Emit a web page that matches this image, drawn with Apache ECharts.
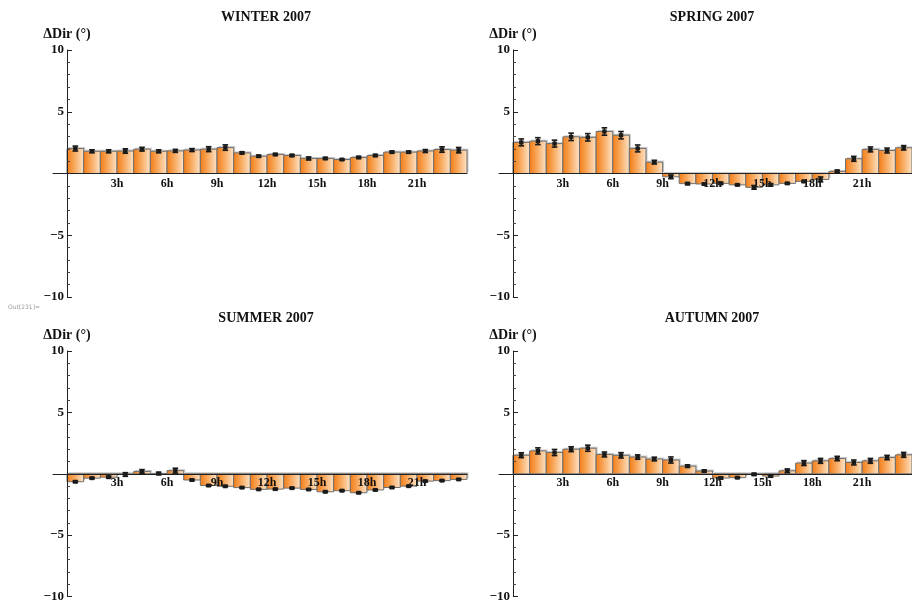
<!DOCTYPE html>
<html>
<head>
<meta charset="utf-8">
<script src="https://cdn.jsdelivr.net/npm/echarts@6/dist/echarts.min.js"></script>
<style>
  html, body { margin: 0; padding: 0; background: #ffffff; }
  #chart { width: 912px; height: 603px; }
</style>
</head>
<body>
<div id="chart"></div>
<script>
// Hour of day for each bar (bar i spans [hour, hour + 1])
const hours = [0, 1, 2, 3, 4, 5, 6, 7, 8, 9, 10, 11, 12, 13, 14, 15, 16, 17, 18, 19, 20, 21, 22, 23];
// Hours that carry a tick label on the time axis
const tickHours = [3, 6, 9, 12, 15, 18, 21];
const yTicks = [-10, -5, 0, 5, 10];

const seasonTitles = ['WINTER 2007', 'SPRING 2007', 'SUMMER 2007', 'AUTUMN 2007'];

// Mean direction difference (degrees) per hour and its error
const winterMean = [2.02, 1.8, 1.8, 1.82, 1.97, 1.8, 1.83, 1.9, 1.97, 2.1, 1.67, 1.4,
                    1.54, 1.46, 1.22, 1.22, 1.13, 1.3, 1.46, 1.73, 1.73, 1.82, 1.94, 1.89];
const winterErr  = [0.2, 0.12, 0.12, 0.18, 0.15, 0.12, 0.12, 0.12, 0.2, 0.22, 0.08, 0.08,
                    0.08, 0.08, 0.12, 0.08, 0.05, 0.08, 0.08, 0.08, 0.08, 0.12, 0.22, 0.22];

const springMean = [2.52, 2.62, 2.42, 2.97, 2.93, 3.4, 3.1, 2.03, 0.92, -0.27, -0.82, -0.85,
                    -0.8, -0.92, -1.12, -0.92, -0.8, -0.64, -0.48, 0.17, 1.19, 1.95, 1.86, 2.08];
const springErr  = [0.28, 0.28, 0.28, 0.3, 0.3, 0.3, 0.3, 0.28, 0.15, 0.15, 0.08, 0.08,
                    0.08, 0.06, 0.15, 0.1, 0.06, 0.08, 0.2, 0.1, 0.2, 0.2, 0.2, 0.18];

const summerMean = [-0.65, -0.36, -0.28, -0.06, 0.19, 0.02, 0.25, -0.51, -0.96, -1.02, -1.13, -1.27,
                    -1.25, -1.17, -1.28, -1.47, -1.38, -1.55, -1.32, -1.12, -1.01, -0.6, -0.56, -0.46];
const summerErr  = [0.06, 0.06, 0.08, 0.15, 0.15, 0.1, 0.2, 0.06, 0.05, 0.05, 0.05, 0.05,
                    0.05, 0.05, 0.05, 0.05, 0.05, 0.05, 0.05, 0.05, 0.05, 0.05, 0.05, 0.05];

const autumnMean = [1.51, 1.86, 1.73, 2.0, 2.08, 1.57, 1.5, 1.36, 1.2, 1.12, 0.62, 0.22,
                    -0.35, -0.32, -0.05, -0.19, 0.24, 0.87, 1.05, 1.24, 0.92, 1.05, 1.32, 1.54];
const autumnErr  = [0.2, 0.25, 0.25, 0.2, 0.25, 0.2, 0.22, 0.18, 0.15, 0.25, 0.1, 0.08,
                    0.08, 0.05, 0.08, 0.08, 0.15, 0.2, 0.2, 0.18, 0.2, 0.2, 0.18, 0.2];

const seasonMeans = [winterMean, springMean, summerMean, autumnMean];
const seasonErrs = [winterErr, springErr, summerErr, autumnErr];

const SERIF = "'Liberation Serif', 'Times New Roman', serif";

// Panel placement (2 x 2); the time axis starts a little left of the ΔDir axis
const panels = [
  { left: 53,  top: 50,  width: 414, height: 247, titleX: 266, titleY: 17 },
  { left: 499, top: 50,  width: 414, height: 247, titleX: 712, titleY: 17 },
  { left: 53,  top: 351, width: 414, height: 247, titleX: 266, titleY: 318 },
  { left: 499, top: 351, width: 414, height: 247, titleX: 712, titleY: 318 }
];
const X_MIN = -0.84;
const X_MAX = 24;

const barFill = new echarts.graphic.LinearGradient(0, 0, 1, 0, [
  { offset: 0, color: '#f37a12' },
  { offset: 0.45, color: '#f8a95e' },
  { offset: 1, color: '#fde6cc' }
]);

function renderBar(params, api) {
  const x = api.value(0);
  const v = api.value(1);
  const a = api.coord([x - 0.5, 0]);
  const b = api.coord([x + 0.5, v]);
  const left = a[0];
  const w = b[0] - a[0];
  const top = Math.min(a[1], b[1]);
  const h = Math.abs(b[1] - a[1]);
  return {
    type: 'group',
    children: [
      { type: 'rect', shape: { x: left + 1.5, y: top - 1.5, width: w, height: h },
        style: { fill: '#c8c8c8' } },
      { type: 'rect', shape: { x: left, y: top, width: w, height: h },
        style: { fill: barFill, stroke: '#707070', lineWidth: 1 } }
    ]
  };
}

function renderErr(params, api) {
  const x = api.value(0);
  const v = api.value(1);
  const e = api.value(2);
  const c = api.coord([x, v]);
  const hi = api.coord([x, v + e]);
  const lo = api.coord([x, v - e]);
  const cap = 2.8;
  const ls = { stroke: '#1a1a1a', lineWidth: 1.6 };
  return {
    type: 'group',
    children: [
      { type: 'line', shape: { x1: c[0], y1: hi[1], x2: c[0], y2: lo[1] }, style: ls },
      { type: 'line', shape: { x1: c[0] - cap, y1: hi[1], x2: c[0] + cap, y2: hi[1] }, style: ls },
      { type: 'line', shape: { x1: c[0] - cap, y1: lo[1], x2: c[0] + cap, y2: lo[1] }, style: ls },
      { type: 'rect', shape: { x: c[0] - 2.2, y: c[1] - 2, width: 4.4, height: 4 },
        style: { fill: '#1a1a1a' } }
    ]
  };
}

const grid = [], xAxis = [], yAxis = [], series = [], graphic = [];

panels.forEach((p, k) => {
  grid.push({ left: p.left, top: p.top, width: p.width, height: p.height, containLabel: false });

  // Axis labels stay at the grid edge, so pull them onto the zero lines
  const xLabelMargin = 4 - p.height / 2;
  const yAxisPx = p.width * (0 - X_MIN) / (X_MAX - X_MIN);
  const yLabelMargin = 3 - yAxisPx;

  xAxis.push({
    type: 'value', gridIndex: k, min: X_MIN, max: X_MAX, z: 5,
    splitLine: { show: false },
    axisLine: { onZero: true, lineStyle: { color: '#222', width: 1 } },
    axisTick: { show: false },
    axisLabel: {
      customValues: tickHours,
      formatter: v => v + 'h',
      margin: xLabelMargin,
      color: '#111', fontFamily: SERIF, fontWeight: 'bold', fontSize: 12
    }
  });

  yAxis.push({
    type: 'value', gridIndex: k, min: yTicks[0], max: yTicks[yTicks.length - 1], interval: 5, z: 5,
    name: '\u0394Dir (\u00b0)',
    nameLocation: 'end', nameGap: 9,
    nameTextStyle: { color: '#111', fontFamily: SERIF, fontWeight: 'bold', fontSize: 14 },
    splitLine: { show: false },
    axisLine: { show: true, onZero: true, lineStyle: { color: '#222', width: 1 } },
    axisTick: { show: true, inside: true, length: 5, lineStyle: { color: '#222' } },
    minorTick: { show: true, splitNumber: 5, length: 3, lineStyle: { color: '#444' } },
    axisLabel: {
      margin: yLabelMargin,
      formatter: v => (v === 0 ? '' : (v < 0 ? '\u2212' + (-v) : String(v))),
      color: '#111', fontFamily: SERIF, fontWeight: 'bold', fontSize: 13
    }
  });

  const rows = hours.map((h, i) => [h + 0.5, seasonMeans[k][i], seasonErrs[k][i]]);

  series.push({
    type: 'custom', xAxisIndex: k, yAxisIndex: k, z: 2,
    renderItem: renderBar, data: rows, silent: true
  });
  series.push({
    type: 'custom', xAxisIndex: k, yAxisIndex: k, z: 8,
    renderItem: renderErr, data: rows, silent: true
  });

  graphic.push({
    type: 'text', x: p.titleX, y: p.titleY,
    style: {
      text: seasonTitles[k], x: 0, y: 0, align: 'center', verticalAlign: 'middle',
      fill: '#111', font: 'bold 14px ' + SERIF
    }
  });
});

graphic.push({
  type: 'text', x: 8, y: 307,
  style: { text: 'Out[231]=', verticalAlign: 'middle', fill: '#9a9a9a',
           font: '6px "DejaVu Sans", sans-serif' }
});

const chart = echarts.init(document.getElementById('chart'), null, { renderer: 'canvas' });
chart.setOption({
  animation: false,
  backgroundColor: '#ffffff',
  grid, xAxis, yAxis, series, graphic
});
</script>
</body>
</html>
